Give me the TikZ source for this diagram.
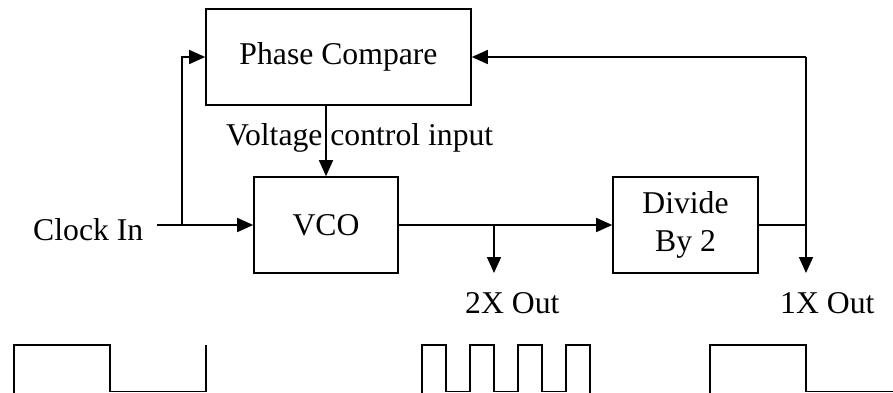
\documentclass[tikz,border=0pt]{standalone}
\usepackage{fontspec}
\setmainfont{Liberation Serif}
\usetikzlibrary{arrows.meta}
\begin{document}
\begin{tikzpicture}[x=1pt,y=-1pt,
  font=\fontsize{31.7}{38}\selectfont,
  blk/.style={draw,line width=1.6pt,minimum width=#1,minimum height=96pt,inner sep=0pt,align=center},
  wire/.style={line width=1.6pt},
  arr/.style={wire,-{Triangle[length=16pt,width=14pt]}},
  lbl/.style={anchor=base west,inner sep=0pt},
  wave/.style={line width=1.3pt}]
\useasboundingbox (0,0) rectangle (893,393);
% blocks
\node[blk=265pt] (pc) at (338.5,57) {\raisebox{-2pt}{Phase Compare}};
\node[blk=144pt] (vco) at (326,225) {VCO};
\node[blk=145pt] (div) at (685.5,225) {\raisebox{-3pt}{\begin{tabular}{@{}c@{}}Divide\\By 2\end{tabular}}};
% labels
\node[lbl] (clk) at (33,240) {Clock In};
\node[lbl] (vci) at (226,145) {Voltage control input};
\node[lbl] (o2) at (465,313) {2X Out};
\node[lbl] (o1) at (780,313) {1X Out};
% coordinates
\coordinate (cin) at (157,225);
\coordinate (br) at (182,225);
\coordinate (tap) at (494,225);
\coordinate (out2) at (494,273);
\coordinate (fb) at (806,57);
\coordinate (fbm) at (806,225);
\coordinate (out1) at (806,273);
% connectors
\draw[arr] (cin) -- (vco.west);
\draw[arr] (br) |- (pc.west);
\draw[arr] (vco.north |- pc.south) -- (vco.north);
\draw[arr] (vco.east) -- (div.west);
\draw[arr] (tap) -- (out2);
\draw[wire] (div.east) -- (fbm);
\draw[arr] (fb) -- (out1);
\draw[arr] (fb) -- (pc.east);
% waveforms
\draw[wave] (14,393) -- (14,345) -- (110,345) -- (110,391.5) -- (206,391.5) -- (206,345);
\draw[wave] (422,393) -- (422,345) -- (446,345) -- (446,391.5) -- (470,391.5) -- (470,345) -- (494,345) -- (494,391.5) -- (518,391.5) -- (518,345) -- (542,345) -- (542,391.5) -- (566,391.5) -- (566,345) -- (590,345) -- (590,393);
\draw[wave] (710,393) -- (710,345) -- (806,345) -- (806,391.5) -- (893,391.5);
\end{tikzpicture}
\end{document}
